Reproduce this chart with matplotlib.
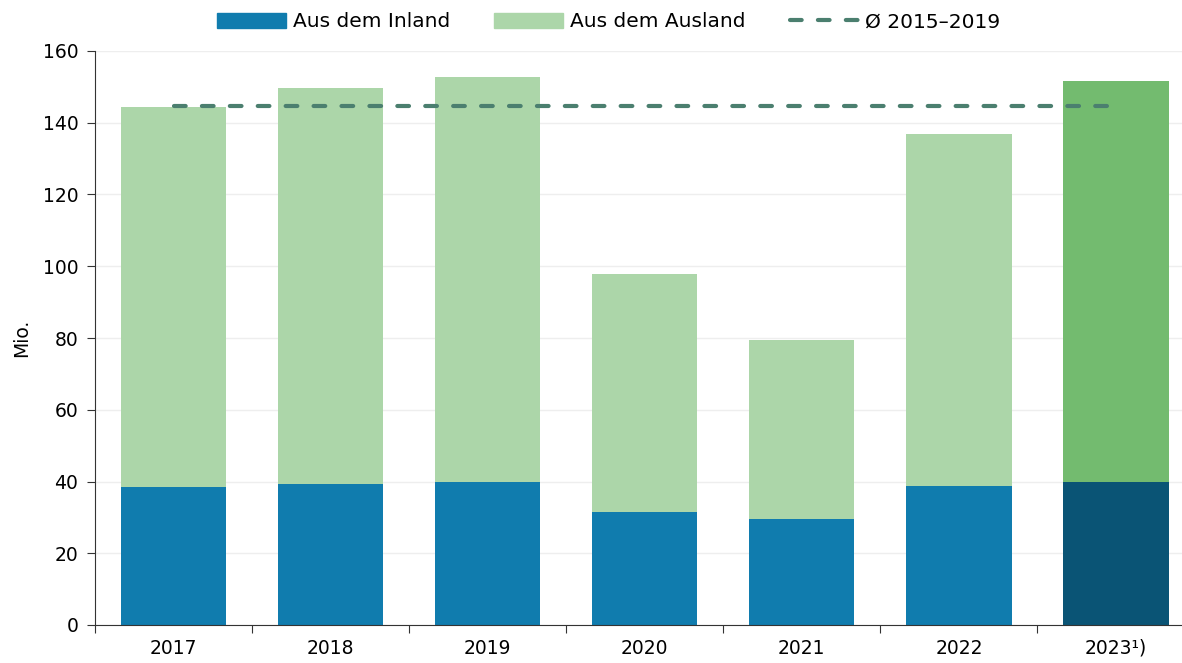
import numpy as np
import matplotlib
matplotlib.use("Agg")
import matplotlib.pyplot as plt
from matplotlib.patches import Patch
from matplotlib.lines import Line2D

years = ["2017", "2018", "2019", "2020", "2021", "2022", "2023¹)"]
inland = [38.5, 39.3, 39.9, 31.5, 29.5, 38.7, 39.9]
total = [144.4, 149.7, 152.8, 97.8, 79.4, 136.9, 151.6]
ausland = [t - i for t, i in zip(total, inland)]
avg_2015_2019 = 144.7

c_in = "#107cae"
c_aus = "#acd6a9"
c_in_23 = "#0a5475"
c_aus_23 = "#73bb6f"
c_avg = "#4b7f6f"

plt.rcParams['font.family'] = ['DejaVu Sans']
plt.rcParams['font.size'] = 13.5

fig = plt.figure(figsize=(11.82, 6.63), dpi=100)
ax = fig.add_axes([95/1182, 38/663, 1 - 95/1182, 574/663])

x = np.arange(len(years))
col_in = [c_in] * (len(years) - 1) + [c_in_23]
col_aus = [c_aus] * (len(years) - 1) + [c_aus_23]
ax.bar(x, inland, width=0.67, color=col_in, zorder=2)
ax.bar(x, ausland, width=0.67, bottom=inland, color=col_aus, zorder=2)
ax.plot([x[0], x[-1]], [avg_2015_2019] * 2, color=c_avg, lw=3,
        dashes=(2.8, 3.9), dash_capstyle='round', zorder=3)

ax.set_xlim(-0.5, 6.42)
ax.set_ylim(0, 160)
ax.set_yticks(range(0, 161, 20))
ax.set_xticks(x)
ax.set_xticklabels(years)
ax.set_xticks(np.arange(-0.5, 6.5, 1), minor=True)
ax.tick_params(axis='x', which='major', length=0, pad=10)
ax.tick_params(axis='x', which='minor', length=6, width=0.8, color='#333333')
ax.tick_params(axis='y', length=6, width=0.8, color='#333333', pad=6)
ax.grid(axis='y', color='#eeeeee', lw=1, zorder=0)
for s in ['top', 'right']:
    ax.spines[s].set_visible(False)
ax.spines['left'].set_color('#333333')
ax.spines['bottom'].set_color('#333333')
ax.set_ylabel("Mio.", labelpad=8)

handles = [Patch(color=c_in, label="Aus dem Inland"),
           Patch(color=c_aus, label="Aus dem Ausland"),
           Line2D([], [], color=c_avg, lw=3, dashes=(2.8, 3.9),
                  dash_capstyle='round', label="Ø 2015–2019")]
fig.legend(handles=handles, loc='center', bbox_to_anchor=(0.515, 0.967), ncol=3,
           frameon=False, handlelength=3.4, handleheight=0.8, columnspacing=2.2,
           handletextpad=0.35, fontsize=14.5)

fig.savefig("out.png", dpi=100)
